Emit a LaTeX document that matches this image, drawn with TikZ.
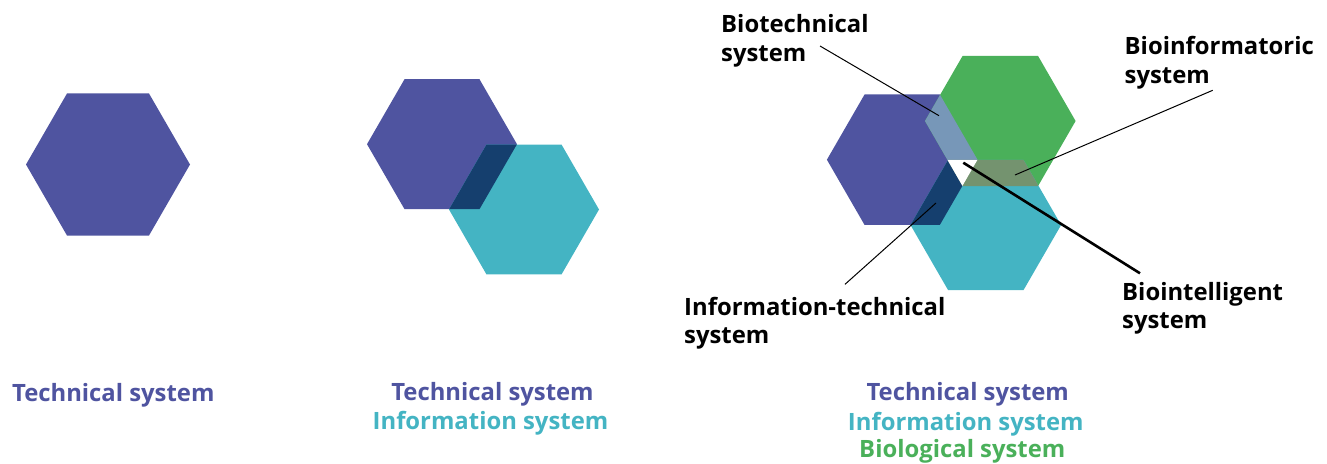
\documentclass[tikz,border=0pt]{standalone}
\usepackage{fontspec}
\setmainfont{Open Sans}
\definecolor{cpurple}{HTML}{4F54A0}
\definecolor{cteal}{HTML}{44B4C3}
\definecolor{cgreen}{HTML}{4AB05A}
\definecolor{cnavy}{HTML}{153F6E}
\definecolor{clight}{HTML}{7797B8}
\definecolor{colive}{HTML}{74936F}
\newcommand\hexag[3]{({#1+#3},#2) -- ++(120:#3) -- ++(180:#3) -- ++(240:#3) -- ++(300:#3) -- ++(0:#3) -- cycle}
\tikzset{
  lbl/.style={inner sep=0pt, font=\fontsize{23.85}{28.5}\selectfont\bfseries},
  lblw/.style={lbl, anchor=base west, text=black},
  lblc/.style={lbl, anchor=base},
  leader/.style={draw=black, line width=1pt},
  leaderthick/.style={draw=black, line width=2.6pt},
}
\begin{document}
\begin{tikzpicture}[x=1pt,y=-1pt]
\useasboundingbox (0,0) rectangle (1327,463);
% ---------- group 1
\fill[cpurple] \hexag{108}{164.5}{82};
\node[lblc, text=cpurple] (t1) at (113.3,401.7) {Technical system};
% ---------- group 2
\fill[cpurple] \hexag{442}{144.2}{75};
\fill[cteal] \hexag{524}{209.5}{75};
\begin{scope}
  \clip \hexag{442}{144.2}{75};
  \fill[cnavy] \hexag{524}{209.5}{75};
\end{scope}
\node[lblc, text=cpurple] (t2a) at (492.5,400) {Technical system};
\node[lblc, text=cteal] (t2b) at (490.5,429.3) {Information system};
% ---------- group 3
\def\Px{902.2}\def\Py{159.7}
\def\Gx{1000.3}\def\Gy{121}
\def\Tx{985.8}\def\Ty{225}
\def\R{75.3}
\fill[cpurple] \hexag{\Px}{\Py}{\R};
\fill[cgreen] \hexag{\Gx}{\Gy}{\R};
\fill[cteal] \hexag{\Tx}{\Ty}{\R};
\begin{scope}
  \clip \hexag{\Px}{\Py}{\R};
  \fill[clight] \hexag{\Gx}{\Gy}{\R};
\end{scope}
\begin{scope}
  \clip \hexag{\Px}{\Py}{\R};
  \fill[cnavy] \hexag{\Tx}{\Ty}{\R};
\end{scope}
\begin{scope}
  \clip \hexag{\Gx}{\Gy}{\R};
  \fill[colive] \hexag{\Tx}{\Ty}{\R};
\end{scope}
\begin{scope}
  \clip \hexag{\Px}{\Py}{\R};
  \clip \hexag{\Gx}{\Gy}{\R};
  \fill[white] \hexag{\Tx}{\Ty}{\R};
\end{scope}
% leader line ends
\coordinate (bt1) at (820,46);
\coordinate (bt2) at (939,115.7);
\coordinate (bi1) at (1212.7,90.3);
\coordinate (bi2) at (1015,175);
\coordinate (bl1) at (1140,273.3);
\coordinate (bl2) at (963.3,162.7);
\coordinate (it1) at (845,284.3);
\coordinate (it2) at (936,203);
\draw[leader] (bt1) -- (bt2);
\draw[leader] (bi1) -- (bi2);
\draw[leaderthick] (bl1) -- (bl2);
\draw[leader] (it1) -- (it2);
% labels
\node[lblw] (btA) at (721,32.3) {Biotechnical};
\node[lblw] (btB) at (721,61.7) {system};
\node[lblw] (biA) at (1124.5,54.7) {Bioinformatoric};
\node[lblw] (biB) at (1124.5,83.3) {system};
\node[lblw] (blA) at (1122,300) {Biointelligent};
\node[lblw] (blB) at (1122,328) {system};
\node[lblw] (itA) at (684,315) {Information-technical};
\node[lblw] (itB) at (684,343) {system};
\node[lblc, text=cpurple] (t3a) at (967.7,400.7) {Technical system};
\node[lblc, text=cteal] (t3b) at (965.8,430) {Information system};
\node[lblc, text=cgreen] (t3c) at (962.3,457.3) {Biological system};
\end{tikzpicture}
\end{document}
